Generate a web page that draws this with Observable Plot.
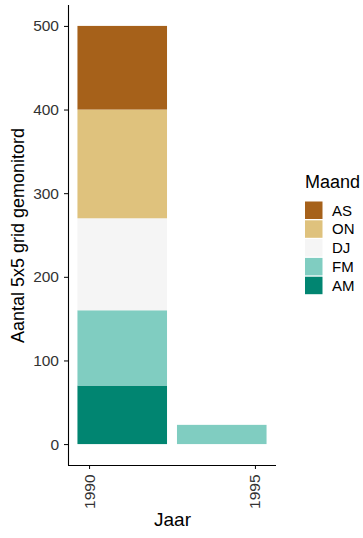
<!DOCTYPE html>
<html>
<head>
<meta charset="utf-8">
<script src="https://cdn.jsdelivr.net/npm/d3@7"></script>
<script src="https://cdn.jsdelivr.net/npm/@observablehq/plot@0.6"></script>
<style>
  body { margin: 0; background: #fff; }
  #wrap { position: relative; width: 363px; height: 538px; font-family: "Liberation Sans", Arial, sans-serif; }
  #legend { position: absolute; left: 0; top: 0; }
</style>
</head>
<body>
<div id="wrap"></div>
<script>
// Data
const jaar = [1991, 1991, 1991, 1991, 1991, 1994];
const maand = ["AM", "FM", "DJ", "ON", "AS", "FM"];
const aantal = [70, 90, 110, 130, 100, 23];

const legendOrder = ["AS", "ON", "DJ", "FM", "AM"];
const legendColors = ["#A6611A", "#DFC27D", "#F5F5F5", "#80CDC1", "#018571"];
const xTicks = [1990, 1995];
const yTicks = [0, 100, 200, 300, 400, 500];

const data = jaar.map((j, i) => ({jaar: j, maand: maand[i], aantal: aantal[i]}));
const halfWidth = 1.35;
const xDomain = [1989.365, 1995.635];
const yDomain = [-25, 525];

const chart = Plot.plot({
  width: 363,
  height: 538,
  marginLeft: 68,
  marginRight: 87,
  marginTop: 5,
  marginBottom: 73,
  style: {fontFamily: "Liberation Sans, Arial, sans-serif", fontSize: "15.5px", background: "#fff"},
  x: {domain: xDomain},
  y: {domain: yDomain},
  color: {domain: legendOrder, range: legendColors},
  marks: [
    Plot.rectY(data, {
      x1: d => d.jaar - halfWidth,
      x2: d => d.jaar + halfWidth,
      y: "aantal",
      fill: "maand",
      order: null
    }),
    Plot.ruleX([xDomain[0]], {stroke: "#000", strokeWidth: 1.1}),
    Plot.ruleY([yDomain[0]], {stroke: "#000", strokeWidth: 1.1}),
    Plot.axisY({ticks: yTicks, tickSize: 4, tickPadding: 5.5, fontSize: 15.5, label: null, color: "#333", stroke: "#000"}),
    Plot.axisX({ticks: xTicks, tickFormat: d => String(d), tickSize: 4, tickPadding: 5, tickRotate: -90, fontSize: 15.5, label: null, color: "#333", stroke: "#000"}),
    Plot.text(["Aantal 5x5 grid gemonitord"], {frameAnchor: "left", rotate: -90, dx: -50, fontSize: 18, fill: "#000", textAnchor: "middle"}),
    Plot.text(["Jaar"], {frameAnchor: "bottom", dy: 60, fontSize: 19, fill: "#000", textAnchor: "middle"})
  ]
});
document.getElementById("wrap").appendChild(chart);

// Legend
const lg = d3.select("#wrap").append("svg")
  .attr("id", "legend")
  .attr("width", 363).attr("height", 538)
  .style("font-family", "Liberation Sans, Arial, sans-serif");
lg.append("text").attr("x", 305).attr("y", 188).attr("font-size", 18).attr("fill", "#000").text("Maand");
legendOrder.forEach((m, i) => {
  const y0 = 201.5 + i * 18.8;
  lg.append("rect").attr("x", 305).attr("y", y0).attr("width", 17.5).attr("height", 17.5).attr("fill", legendColors[i]);
  lg.append("text").attr("x", 332).attr("y", y0 + 8.75).attr("dy", "0.35em").attr("font-size", 15).attr("fill", "#000").text(m);
});
</script>
</body>
</html>
